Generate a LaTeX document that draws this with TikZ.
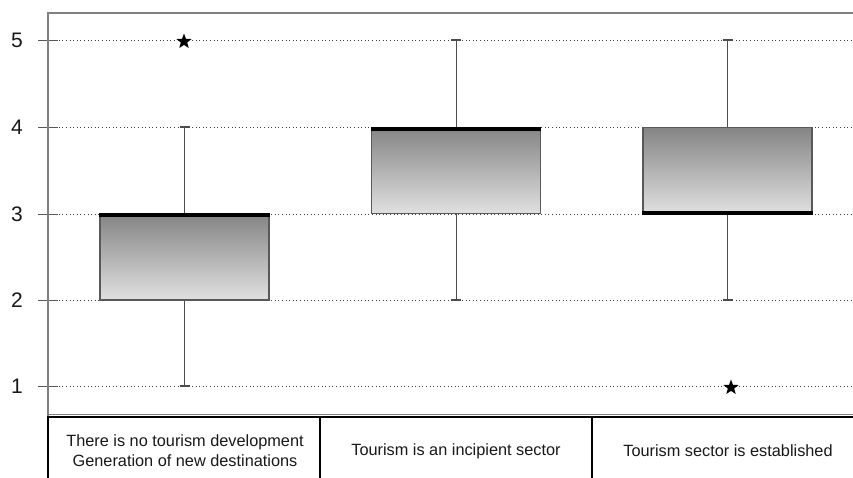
\documentclass[tikz,border=0pt]{standalone}
\usepackage{fontspec}
\setmainfont{Liberation Sans}
\usetikzlibrary{shapes.geometric}
\begin{document}
\begin{tikzpicture}[x=1pt,y=-1pt,
 frame/.style={draw=black!50,line width=1.4pt},
 gridln/.style={draw=black!75,line width=0.9pt,dash pattern=on 1pt off 2.6pt},
 boxst/.style={draw=black!65,line width=1.2pt,top color=black!48,bottom color=black!12,minimum width=169pt,minimum height=86pt,inner sep=0pt},
 med/.style={line width=4pt,black},
 whisk/.style={draw=black!70,line width=1pt},
 capst/.style={draw=black!70,line width=1.3pt},
 outl/.style={star,star points=5,star point ratio=2.4,fill=black,inner sep=0pt,minimum size=16pt},
 ylab/.style={font=\fontsize{21}{21}\selectfont,text=black!90},
 clab/.style={font=\fontsize{16.3}{20}\selectfont,align=center,text=black!90},
 tickst/.style={draw=black!65,line width=1pt}]
\useasboundingbox (0,0) rectangle (853,477);
\clip (0,0) rectangle (853,477);
\fill[white] (0,0) rectangle (853,477);
% grid lines and y labels
\foreach \v/\yy in {5/40,4/127,3/214,2/300,1/386}{
  \draw[gridln] (48,\yy) -- (900,\yy);
  \draw[tickst] (38,\yy) -- (58,\yy);
  \node[ylab] (y\v) at (17,\yy) {\v};
}
% frame
\draw[frame] (900,13) -- (48,13) -- (48,417);
\draw[black!50,line width=1.4pt] (48,414.5) -- (900,414.5);
\draw[black,line width=1.5pt] (47.3,417) -- (900,417);
% table
\foreach \xx in {48,320,592}{\draw[black,line width=1.5pt] (\xx,417) -- (\xx,480);}
\node[clab] (c1) at (185,451) {There is no tourism development\\Generation of new destinations};
\node[clab] (c2) at (456,451) {Tourism is an incipient sector};
\node[clab] (c3) at (728,451) {Tourism sector is established};
% boxes
\node[boxst] (b1) at (184.5,257) {};
\node[boxst] (b2) at (456,170.5) {};
\node[boxst] (b3) at (727.5,170.5) {};
% whisker ends
\coordinate (w1t) at (184.5,127);
\coordinate (w1b) at (184.5,386);
\coordinate (w2t) at (456,40);
\coordinate (w2b) at (456,300);
\coordinate (w3t) at (727.5,40);
\coordinate (w3b) at (727.5,300);
\draw[whisk] (b1.north) -- (w1t);
\draw[whisk] (b1.south) -- (w1b);
\draw[whisk] (b2.north) -- (w2t);
\draw[whisk] (b2.south) -- (w2b);
\draw[whisk] (b3.north) -- (w3t);
\draw[whisk] (b3.south) -- (w3b);
\foreach \w in {w1t,w1b,w2t,w2b,w3t,w3b}{
  \draw[capst] ([xshift=-5pt]\w) -- ([xshift=5pt]\w);
}
% medians
\draw[med] ([yshift=-2pt]b1.north west) -- ([yshift=-2pt]b1.north east);
\draw[med] ([yshift=-2pt]b2.north west) -- ([yshift=-2pt]b2.north east);
\draw[med] ([yshift=1pt]b3.south west) -- ([yshift=1pt]b3.south east);
% outliers
\node[outl] (o1) at (184,41.5) {};
\node[outl] (o3) at (731,387.5) {};
\end{tikzpicture}
\end{document}
